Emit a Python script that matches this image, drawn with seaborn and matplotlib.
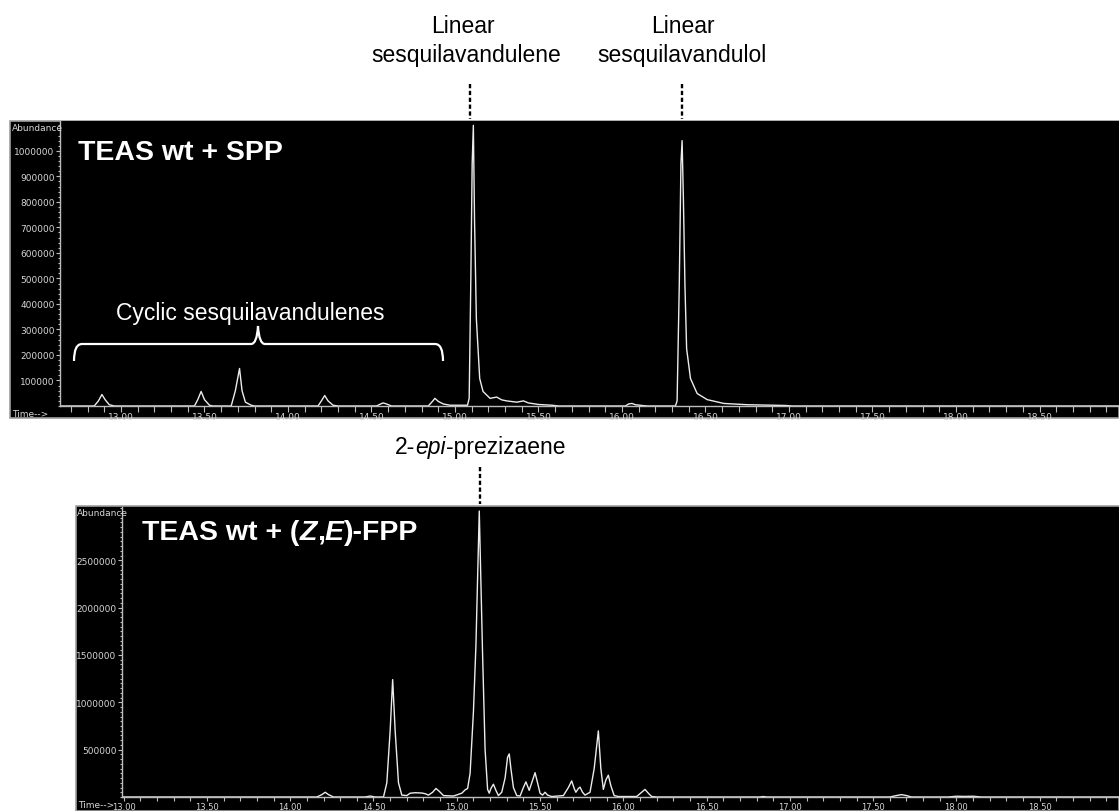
import matplotlib
matplotlib.use("Agg")
import matplotlib.pyplot as plt
import seaborn as sns
import pandas as pd
from matplotlib.lines import Line2D
from matplotlib.patches import Rectangle, PathPatch
from matplotlib.path import Path
from matplotlib.ticker import MultipleLocator, FixedLocator, FixedFormatter

# ---------------- data ----------------
# Top chromatogram: TEAS wt + SPP  (retention time in min, abundance)
top_time = [12.64, 12.84, 12.865, 12.886, 12.905, 12.93, 12.96,
            13.44, 13.46, 13.48, 13.50, 13.53, 13.55,
            13.66, 13.685, 13.71, 13.725, 13.745, 13.78, 13.80,
            14.18, 14.20, 14.22, 14.24, 14.27, 14.30,
            14.53, 14.555, 14.57, 14.59, 14.62,
            14.84, 14.865, 14.88, 14.90, 14.93, 14.97,
            15.075, 15.085, 15.095, 15.103, 15.11, 15.117, 15.128, 15.148,
            15.168, 15.21, 15.25, 15.28, 15.31, 15.37, 15.41, 15.44, 15.50,
            15.58, 15.62,
            16.02, 16.04, 16.06, 16.08, 16.12, 16.15,
            16.32, 16.33, 16.343, 16.353, 16.36, 16.368, 16.377, 16.387,
            16.41, 16.45, 16.51, 16.61, 16.75, 16.98, 17.02, 18.98]
top_abund = [0, 0, 20000, 45000, 25000, 5000, 0,
             0, 25000, 57000, 25000, 3000, 0,
             0, 60000, 147000, 60000, 15000, 3000, 0,
             0, 20000, 41000, 20000, 3000, 0,
             0, 8000, 12000, 8000, 0,
             0, 18000, 30000, 18000, 8000, 3000,
             3000, 30000, 500000, 950000, 1100000, 733000, 343000, 108000,
             57000, 30000, 35000, 24000, 20000, 15000, 20000, 12000, 6000,
             3000, 0,
             0, 8000, 10000, 5000, 2000, 0,
             0, 20000, 473000, 950000, 1040000, 800000, 473000, 225000,
             108000, 49000, 25000, 10000, 5000, 2000, 0, 0]

# Bottom chromatogram: TEAS wt + (Z,E)-FPP
bot_time = [13.00, 14.16, 14.19, 14.21, 14.23, 14.26,
            14.45, 14.48, 14.51,
            14.56, 14.58, 14.60, 14.615, 14.63, 14.65, 14.67,
            14.70, 14.72, 14.75, 14.79, 14.81, 14.83,
            14.855, 14.875, 14.895, 14.92, 14.98,
            15.03, 15.05, 15.065, 15.08, 15.10, 15.115, 15.135, 15.155,
            15.17, 15.185, 15.195,
            15.205, 15.22, 15.235, 15.25,
            15.27, 15.29, 15.305, 15.315, 15.325, 15.34, 15.36, 15.38,
            15.40, 15.415, 15.435, 15.45, 15.47, 15.485, 15.50,
            15.515, 15.53, 15.545, 15.57,
            15.64, 15.67, 15.69, 15.705, 15.715, 15.73, 15.74, 15.755, 15.77,
            15.80, 15.825, 15.85, 15.865, 15.88, 15.895, 15.91, 15.925,
            15.945, 15.97,
            16.08, 16.11, 16.13, 16.15, 16.17, 16.20,
            16.82, 16.84, 16.86,
            17.60, 17.64, 17.67, 17.70, 17.73,
            17.95, 18.00, 18.05, 18.10, 18.15, 18.98]
bot_abund = [0, 0, 25000, 50000, 25000, 0,
             0, 10000, 0,
             0, 150000, 700000, 1240000, 700000, 150000, 20000,
             15000, 40000, 45000, 42000, 35000, 20000,
             50000, 90000, 60000, 15000, 10000,
             40000, 75000, 90000, 250000, 900000, 1600000, 3020000, 1500000,
             500000, 80000, 40000,
             90000, 135000, 70000, 15000,
             50000, 200000, 420000, 455000, 300000, 100000, 15000, 10000,
             100000, 160000, 70000, 150000, 257000, 150000, 40000,
             20000, 50000, 20000, 5000,
             15000, 100000, 170000, 90000, 50000, 90000, 104000, 50000, 20000,
             50000, 300000, 698000, 300000, 80000, 180000, 230000, 120000,
             15000, 5000,
             5000, 50000, 80000, 40000, 5000, 0,
             0, 5000, 0,
             0, 15000, 25000, 15000, 0,
             0, 8000, 6000, 8000, 0, 0]

x_tick_values = [13.0, 13.5, 14.0, 14.5, 15.0, 15.5, 16.0, 16.5, 17.0, 17.5, 18.0, 18.5]
x_tick_labels = ["13.00", "13.50", "14.00", "14.50", "15.00", "15.50",
                 "16.00", "16.50", "17.00", "17.50", "18.00", "18.50"]
top_y_ticks = [100000, 200000, 300000, 400000, 500000, 600000, 700000, 800000, 900000, 1000000]
bot_y_ticks = [500000, 1000000, 1500000, 2000000, 2500000]

# ---------------- layout helpers ----------------
W, H = 1119, 812
plt.rcParams["font.family"] = ["DejaVu Sans"]
fig = plt.figure(figsize=(W / 100, H / 100), dpi=100, facecolor="white")


def fx(x):
    return x / W


def fy(y):
    return 1 - y / H


def rect_px(l, t, r, b):
    return [fx(l), fy(b), (r - l) / W, (b - t) / H]


# black instrument panels
for (l, t, r, b) in [(10, 122, 1119, 419), (76, 507, 1119, 812)]:
    fig.add_artist(Rectangle((fx(l), fy(b)), (r - l) / W, (b - t) / H,
                             transform=fig.transFigure, facecolor="black",
                             edgecolor="#a0a0a0", lw=1.2, zorder=-2))

ax1 = fig.add_axes(rect_px(60, 122, 1119, 407))
ax2 = fig.add_axes(rect_px(122, 508, 1119, 798))

df_top = pd.DataFrame({"time": top_time, "abundance": top_abund})
df_bot = pd.DataFrame({"time": bot_time, "abundance": bot_abund})

sns.lineplot(data=df_top, x="time", y="abundance", ax=ax1, color="#ececec",
             linewidth=1.0, estimator=None, sort=False)
sns.lineplot(data=df_bot, x="time", y="abundance", ax=ax2, color="#ececec",
             linewidth=1.0, estimator=None, sort=False)


def style_axes(ax, xlim, ymax, yticks, yminor, xlen, lsize):
    ax.set_facecolor("black")
    ax.set_xlim(*xlim)
    ax.set_ylim(0, ymax)
    ax.set_xlabel("")
    ax.set_ylabel("")
    ax.grid(False)
    for s in ["top", "right"]:
        ax.spines[s].set_visible(False)
    for s in ["left", "bottom"]:
        ax.spines[s].set_color("#bdbdbd")
        ax.spines[s].set_linewidth(1.0)
    ax.xaxis.set_major_locator(FixedLocator(x_tick_values))
    ax.xaxis.set_major_formatter(FixedFormatter(x_tick_labels))
    ax.xaxis.set_minor_locator(MultipleLocator(0.1))
    ax.yaxis.set_major_locator(FixedLocator(yticks))
    ax.yaxis.set_major_formatter(FixedFormatter([str(v) for v in yticks]))
    ax.yaxis.set_minor_locator(MultipleLocator(yminor))
    ax.tick_params(which="both", colors="#bdbdbd", labelcolor="#d6d6d6",
                   labelsize=6.5, width=0.8, pad=1)
    ax.tick_params(axis="x", which="both", length=xlen, labelsize=lsize, pad=0.5)
    ax.tick_params(axis="y", which="major", length=3)
    ax.tick_params(axis="y", which="minor", length=1.5)


style_axes(ax1, (12.635, 18.976), 1117000, top_y_ticks, 20000, 4, 6.5)
style_axes(ax2, (12.99, 18.976), 3020000 * 290 / 286, bot_y_ticks, 50000, 3, 6.0)

# small instrument captions
small = dict(fontsize=6.5, color="#d6d6d6", family="DejaVu Sans")
fig.text(fx(12), fy(131), "Abundance", va="baseline", **small)
fig.text(fx(12), fy(417), "Time-->", va="baseline", **small)
fig.text(fx(77), fy(516), "Abundance", va="baseline", **small)
fig.text(fx(78), fy(808), "Time-->", va="baseline", **small)

SANS = "Liberation Sans"


def rich(x_px, base_px, segs, size, color, center=False):
    r = fig.canvas.get_renderer()
    cur = fx(x_px)
    objs = []
    for s, st, wt in segs:
        t = fig.text(cur, fy(base_px), s, fontsize=size, color=color,
                     family=SANS, style=st, weight=wt, va="baseline",
                     ha="left", zorder=5)
        bb = t.get_window_extent(renderer=r)
        cur += bb.width / W
        objs.append(t)
    if center:
        shift = (cur - fx(x_px)) / 2
        for t in objs:
            t.set_x(t.get_position()[0] - shift)
    return objs


# panel titles
fig.text(fx(78), fy(160), "TEAS wt + SPP", fontsize=20.5, fontweight="bold",
         color="white", family=SANS, va="baseline", zorder=5)
rich(142, 540, [("TEAS wt + (", "normal", "bold"), ("Z", "italic", "bold"),
                (",", "normal", "bold"), ("E", "italic", "bold"),
                (")-FPP", "normal", "bold")], 20.5, "white")

# peak annotations
ann = dict(fontsize=16.5, color="black", family=SANS, va="baseline",
           ha="center", zorder=5)
fig.text(fx(463), fy(33), "Linear", **ann)
fig.text(fx(466), fy(62), "sesquilavandulene", **ann)
fig.text(fx(683), fy(33), "Linear", **ann)
fig.text(fx(682), fy(62), "sesquilavandulol", **ann)
rich(480, 454, [("2-", "normal", "normal"), ("epi", "italic", "normal"),
                ("-prezizaene", "normal", "normal")], 16.5, "black", center=True)
fig.text(fx(250), fy(320), "Cyclic sesquilavandulenes", fontsize=16.5,
         color="white", family=SANS, va="baseline", ha="center", zorder=5)

# dashed markers above the peaks
for (x, y0, y1) in [(470, 85, 120), (682, 85, 120), (480, 468, 505)]:
    fig.add_artist(Line2D([fx(x), fx(x)], [fy(y0), fy(y1)],
                          transform=fig.transFigure, color="black", lw=1.7,
                          dashes=(1.8, 1.1), zorder=5))

# curly brace over the cyclic products
bp = [(74, 362), (74, 345), (82, 345), (251, 345), (257, 345), (258, 327),
      (259, 345), (265, 345), (435, 345), (443, 345), (443, 362)]
codes = [Path.MOVETO, Path.CURVE3, Path.CURVE3, Path.LINETO, Path.CURVE3,
         Path.CURVE3, Path.CURVE3, Path.CURVE3, Path.LINETO, Path.CURVE3,
         Path.CURVE3]
brace = Path([(fx(x), fy(y)) for x, y in bp], codes)
fig.add_artist(PathPatch(brace, transform=fig.transFigure, facecolor="none",
                         edgecolor="white", lw=1.6, zorder=5))

fig.savefig("out.png", dpi=100, facecolor="white")
